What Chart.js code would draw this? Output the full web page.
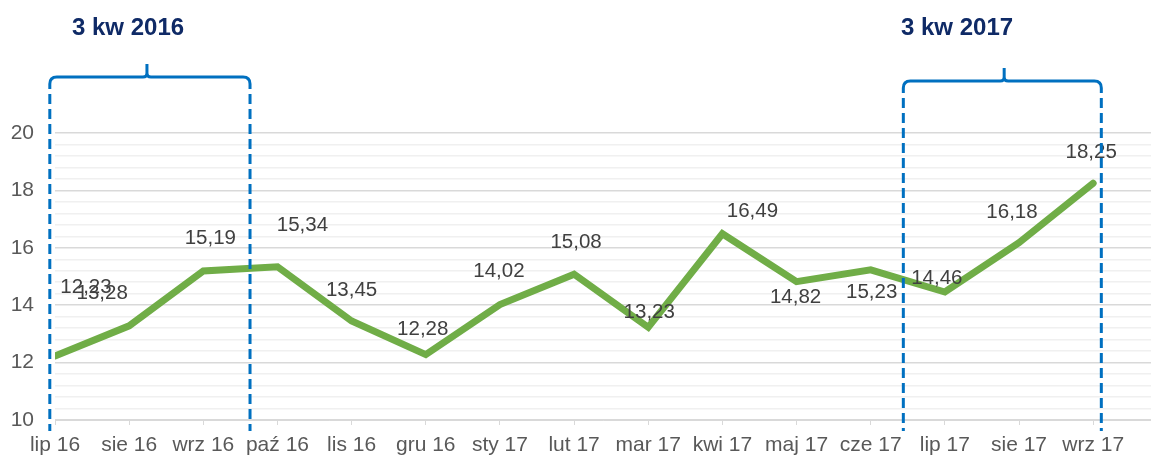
<!DOCTYPE html>
<html><head><meta charset="utf-8">
<script src="https://cdn.jsdelivr.net/npm/chart.js@4/dist/chart.umd.min.js"></script>
<style>html,body{margin:0;padding:0;background:#fff}</style>
</head><body>
<canvas id="c" width="1151" height="462" style="width:1151px;height:462px;display:block"></canvas>
<script>
const categories = ['lip 16','sie 16','wrz 16','paź 16','lis 16','gru 16','sty 17','lut 17','mar 17','kwi 17','maj 17','cze 17','lip 17','sie 17','wrz 17'];
const values = [12.23, 13.28, 15.19, 15.34, 13.45, 12.28, 14.02, 15.08, 13.23, 16.49, 14.82, 15.23, 14.46, 16.18, 18.25];
const labelOffsets = [[31,-69],[-27,-33],[7,-33],[25,-41],[0,-31],[-3,-25],[-1,-33],[2,-32],[1,-15],[30,-22],[-1,16],[1,22],[-8,-14],[-7,-30],[-2,-31]];
const quarterTitles = ['3 kw 2016', '3 kw 2017'];
const quarterSpans = [[-0.07, 2.63, 1.24], [11.44, 14.11, 12.8]];

const fmt = v => v.toFixed(2).replace('.', ',');

const labelPlugin = {
  id: 'vlabels',
  afterDatasetsDraw(chart) {
    const ctx = chart.ctx, meta = chart.getDatasetMeta(0);
    ctx.save();
    ctx.font = '20.5px "Liberation Sans", Arial, sans-serif';
    ctx.fillStyle = '#404040';
    ctx.textAlign = 'center';
    ctx.textBaseline = 'middle';
    meta.data.forEach((pt, i) => {
      ctx.fillText(fmt(values[i]), pt.x + labelOffsets[i][0], pt.y + labelOffsets[i][1]);
    });
    ctx.restore();
  }
};

const bracketPlugin = {
  id: 'brackets',
  afterDraw(chart) {
    const ctx = chart.ctx, xs = chart.scales.x;
    const tops = [77, 81];
    ctx.save();
    quarterSpans.forEach((s, i) => {
      const l = xs.getPixelForValue(s[0]), r = xs.getPixelForValue(s[1]), m = xs.getPixelForValue(s[2]);
      const t = tops[i], rad = 7, bottom = 431;
      ctx.strokeStyle = '#0070c0';
      ctx.lineWidth = 3;
      ctx.setLineDash([]);
      ctx.beginPath();
      ctx.moveTo(l, t + 12);
      ctx.lineTo(l, t + rad);
      ctx.quadraticCurveTo(l, t, l + rad, t);
      ctx.lineTo(m - 4, t);
      ctx.quadraticCurveTo(m, t, m, t - 4);
      ctx.lineTo(m, t - 13);
      ctx.moveTo(m, t - 4);
      ctx.quadraticCurveTo(m, t, m + 4, t);
      ctx.lineTo(r - rad, t);
      ctx.quadraticCurveTo(r, t, r, t + rad);
      ctx.lineTo(r, t + 12);
      ctx.stroke();
      ctx.setLineDash([10, 5]);
      ctx.beginPath();
      ctx.moveTo(l, t + 17); ctx.lineTo(l, bottom);
      ctx.moveTo(r, t + 17); ctx.lineTo(r, bottom);
      ctx.stroke();
      ctx.setLineDash([]);
      ctx.font = 'bold 24px "Liberation Sans", Arial, sans-serif';
      ctx.fillStyle = '#0f2a66';
      ctx.textAlign = 'left';
      ctx.textBaseline = 'middle';
      ctx.fillText(quarterTitles[i], i === 0 ? 72 : 901, 28);
    });
    ctx.restore();
  }
};

const isMajor = v => Math.abs(v / 2 - Math.round(v / 2)) < 1e-6;

new Chart(document.getElementById('c'), {
  type: 'line',
  data: {
    datasets: [{
      data: values.map((v, i) => ({x: i, y: v})),
      borderColor: '#70ad47',
      borderWidth: 7,
      pointRadius: 0,
      tension: 0,
      borderCapStyle: 'round',
      borderJoinStyle: 'miter'
    }]
  },
  options: {
    responsive: false,
    animation: false,
    layout: {padding: {top: 133, left: 0, right: 0, bottom: 0}},
    plugins: {legend: {display: false}, tooltip: {enabled: false}},
    scales: {
      x: {
        type: 'linear',
        min: 0,
        max: 14.78,
        afterBuildTicks: s => { s.ticks = categories.map((_, i) => ({value: i})); },
        afterFit: s => { s.height = 42; },
        grid: {display: true, drawOnChartArea: false, drawTicks: true, tickLength: 5, color: '#d9d9d9'},
        border: {display: true, color: '#d9d9d9', width: 1},
        ticks: {
          autoSkip: false, maxRotation: 0, padding: 8,
          color: '#595959',
          font: {family: '"Liberation Sans", Arial, sans-serif', size: 21},
          callback: v => categories[v]
        }
      },
      y: {
        min: 10,
        max: 20,
        afterFit: s => { s.width = 55; },
        border: {display: false},
        grid: {
          drawTicks: false,
          color: c => isMajor(c.tick.value) ? '#d9d9d9' : '#f0f0f0',
          lineWidth: 1.5
        },
        ticks: {
          stepSize: 0.4,
          autoSkip: false,
          padding: 21,
          color: '#595959',
          font: {family: '"Liberation Sans", Arial, sans-serif', size: 21},
          callback: v => isMajor(v) ? String(Math.round(v)) : ''
        }
      }
    }
  },
  plugins: [labelPlugin, bracketPlugin]
});
</script>
</body></html>
